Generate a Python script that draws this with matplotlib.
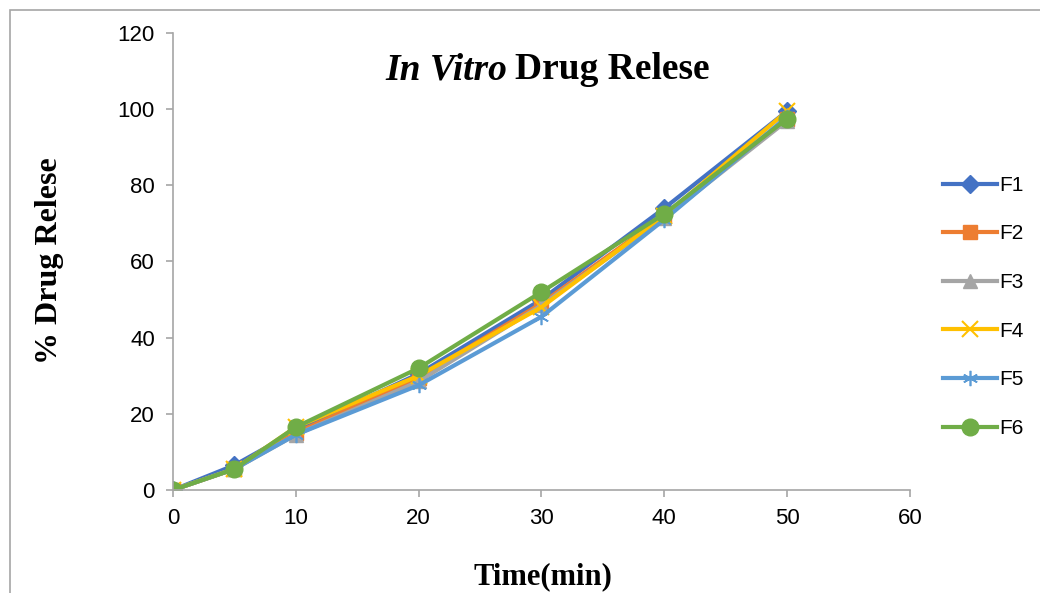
import matplotlib.pyplot as plt
from matplotlib.patches import Rectangle

# time points (min) and % drug release for each formulation
time_min = [0, 5, 10, 20, 30, 40, 50]
F1 = [0, 6.5, 15.5, 30.5, 50, 74, 99.5]
F2 = [0, 5.5, 15, 29.5, 49, 72, 97.5]
F3 = [0, 5.5, 14.5, 28.5, 48.5, 71.5, 97]
F4 = [0, 5.5, 16.5, 30, 48, 72, 99.5]
F5 = [0, 5.5, 14.5, 27.5, 45.5, 71, 98]
F6 = [0, 5.5, 16.5, 32, 52, 72.5, 97.5]

names = ['F1', 'F2', 'F3', 'F4', 'F5', 'F6']
series = [F1, F2, F3, F4, F5, F6]
colors = ['#4472C4', '#ED7D31', '#A5A5A5', '#FFC000', '#5B9BD5', '#70AD47']
markers = ['D', 's', '^', 'x', '*', 'o']

fig = plt.figure(figsize=(10.4, 5.93), dpi=100, facecolor='w')
# chart frame (document crop)
fig.patches.append(Rectangle((0.0096, -0.1), 1.1, 1.083, transform=fig.transFigure,
                             fill=False, edgecolor='#a6a6a6', lw=1.2))
ax = fig.add_axes([0.1663, 0.1737, 0.7087, 0.7707])

for name, ys, c, m in zip(names, series, colors, markers):
    if m == 'x':
        ax.plot(time_min, ys, color=c, lw=3, marker='x', ms=11, mew=1.5, label=name)
    elif m == '*':
        ax.plot(time_min, ys, color=c, lw=3, marker=(6, 2, 0), ms=11, mew=1.2,
                label=name)
    else:
        ms = {'D': 9, 's': 10, '^': 10, 'o': 12}[m]
        ax.plot(time_min, ys, color=c, lw=3, marker=m, ms=ms, mec=c, label=name)

ax.set_xlim(0, 60)
ax.set_ylim(0, 120)
ax.set_xticks(range(0, 61, 10))
ax.set_yticks(range(0, 121, 20))
for s in ['top', 'right']:
    ax.spines[s].set_visible(False)
for s in ['left', 'bottom']:
    ax.spines[s].set_color('#a6a6a6')
    ax.spines[s].set_linewidth(1.2)
ax.tick_params(axis='both', colors='#a6a6a6', length=5, width=1.2, labelcolor='black',
               labelsize=16, pad=8)
for lab in ax.get_xticklabels() + ax.get_yticklabels():
    lab.set_family('Liberation Sans')

ax.text(0.454, 0.92, 'In Vitro', transform=ax.transAxes, ha='right', va='center',
        family='Liberation Serif', fontsize=27, fontweight='bold', style='italic')
ax.text(0.464, 0.92, 'Drug Relese', transform=ax.transAxes, ha='left', va='center',
        family='Liberation Serif', fontsize=27, fontweight='bold')

fig.text(0.048, 0.56, '% Drug Relese', rotation=90, ha='center', va='center',
         family='Liberation Serif', fontsize=23, fontweight='bold')
fig.text(0.522, 0.027, 'Time(min)', ha='center', va='center',
         family='Liberation Serif', fontsize=22, fontweight='bold')

leg = fig.legend(loc='upper left', bbox_to_anchor=(0.889, 0.735), frameon=False,
                 handlelength=2.6, labelspacing=1.42, handletextpad=0.1,
                 prop={'family': 'Liberation Sans', 'size': 15})

fig.savefig('out.png', dpi=100)
